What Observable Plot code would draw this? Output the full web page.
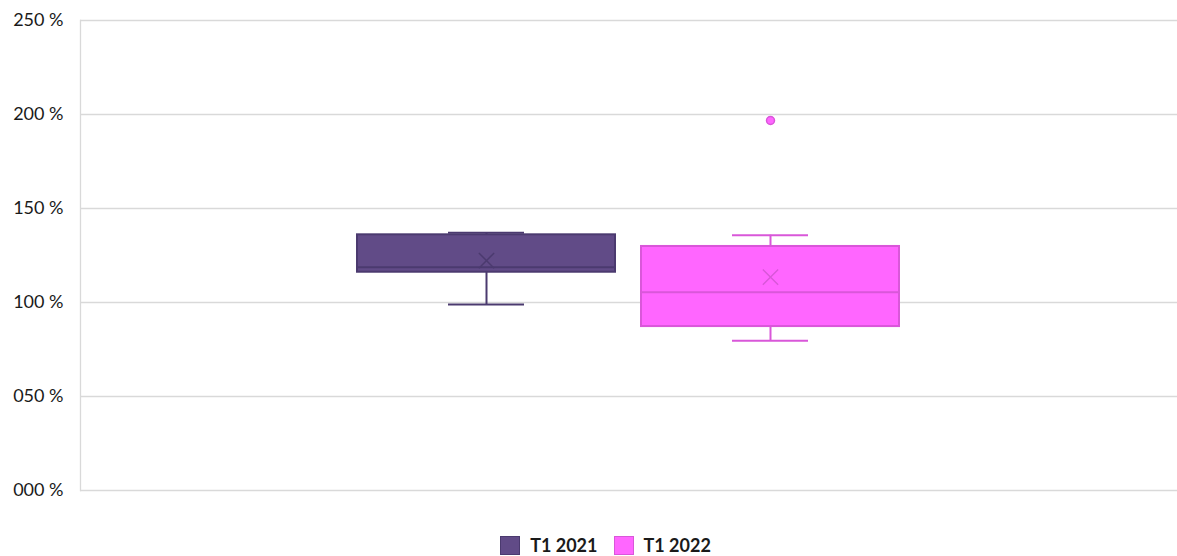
<!DOCTYPE html>
<html>
<head>
<meta charset="utf-8">
<script src="https://cdn.jsdelivr.net/npm/d3@7"></script>
<script src="https://cdn.jsdelivr.net/npm/@observablehq/plot@0.6"></script>
<style>
  html, body { margin: 0; padding: 0; background: #fff; }
  body { width: 1177px; font-family: Lato, "Noto Sans", sans-serif; }
  #legend { display: flex; justify-content: center; align-items: center; gap: 16px; padding-left: 34px; padding-top: 14px; height: 22px; font-weight: bold; font-size: 18px; color: #1a1a1a; }
  #legend .item { display: flex; align-items: center; gap: 10px; }
  #legend .sw { width: 20px; height: 19px; box-sizing: border-box; border: 1.5px solid; }
</style>
</head>
<body>
<div id="chart"></div>
<div id="legend"></div>
<script>
// Series
const series = ["T1 2021", "T1 2022"];
const whiskerLow = [98.9, 79.6];
const q1 = [116.1, 87.2];
const median = [118.8, 105.5];
const q3 = [136.0, 129.8];
const whiskerHigh = [137.1, 135.8];
const mean = [122.3, 113.5];
const outlierSeries = ["T1 2022"];
const outlierValue = [196.8];
const yTicks = [0, 50, 100, 150, 200, 250];

const fills = ["#614b87", "#ff66ff"];
const strokes = ["#4b3a6f", "#d957d9"];

const rows = series.map((s, i) => ({
  s, lo: whiskerLow[i], q1: q1[i], med: median[i], q3: q3[i], hi: whiskerHigh[i], mean: mean[i]
}));
const outliers = outlierSeries.map((s, i) => ({s, v: outlierValue[i]}));

const color = {domain: series, range: fills};
const strokeColor = d => strokes[series.indexOf(d.s)];

const plot = Plot.plot({
  width: 1177,
  height: 520,
  marginLeft: 80,
  marginRight: 0,
  marginTop: 20,
  marginBottom: 30,
  style: {fontFamily: "Lato, 'Noto Sans', sans-serif", fontSize: "18px", color: "#1a1a1a"},
  x: {domain: series, paddingInner: 0.0915, paddingOuter: 0.977, axis: null},
  y: {domain: [0, 250], ticks: yTicks, tickSize: 0, tickPadding: 17, tickFormat: d => d3.format("03d")(d) + " %", label: null},
  color,
  marks: [
    Plot.ruleY(yTicks, {stroke: "#d9d9d9", strokeWidth: 1.3}),
    Plot.frame({anchor: "left", stroke: "#d9d9d9", strokeWidth: 1.3}),
    // whisker stems
    Plot.ruleX(rows, {x: "s", y1: "lo", y2: "q1", stroke: strokeColor, strokeWidth: 2}),
    Plot.ruleX(rows, {x: "s", y1: "q3", y2: "hi", stroke: strokeColor, strokeWidth: 2}),
    // whisker caps
    Plot.tickY(rows, {x: "s", y: "lo", stroke: strokeColor, strokeWidth: 2, insetLeft: 91, insetRight: 91}),
    Plot.tickY(rows, {x: "s", y: "hi", stroke: strokeColor, strokeWidth: 2, insetLeft: 91, insetRight: 91}),
    // boxes
    Plot.barY(rows, {x: "s", y1: "q1", y2: "q3", fill: "s", stroke: strokeColor, strokeWidth: 2}),
    // median
    Plot.tickY(rows, {x: "s", y: "med", stroke: strokeColor, strokeWidth: 2}),
    // mean
    Plot.dot(rows, {x: "s", y: "mean", symbol: "times", r: 7, stroke: strokeColor, strokeWidth: 1.5}),
    // outliers
    Plot.dot(outliers, {x: "s", y: "v", r: 4, fill: d => fills[series.indexOf(d.s)], stroke: d => strokes[series.indexOf(d.s)], strokeWidth: 1.5})
  ]
});
document.getElementById("chart").appendChild(plot);

const legend = document.getElementById("legend");
series.forEach((s, i) => {
  const item = document.createElement("div");
  item.className = "item";
  const sw = document.createElement("div");
  sw.className = "sw";
  sw.style.background = fills[i];
  sw.style.borderColor = strokes[i];
  const t = document.createElement("span");
  t.textContent = s;
  item.appendChild(sw);
  item.appendChild(t);
  legend.appendChild(item);
});
</script>
</body>
</html>
